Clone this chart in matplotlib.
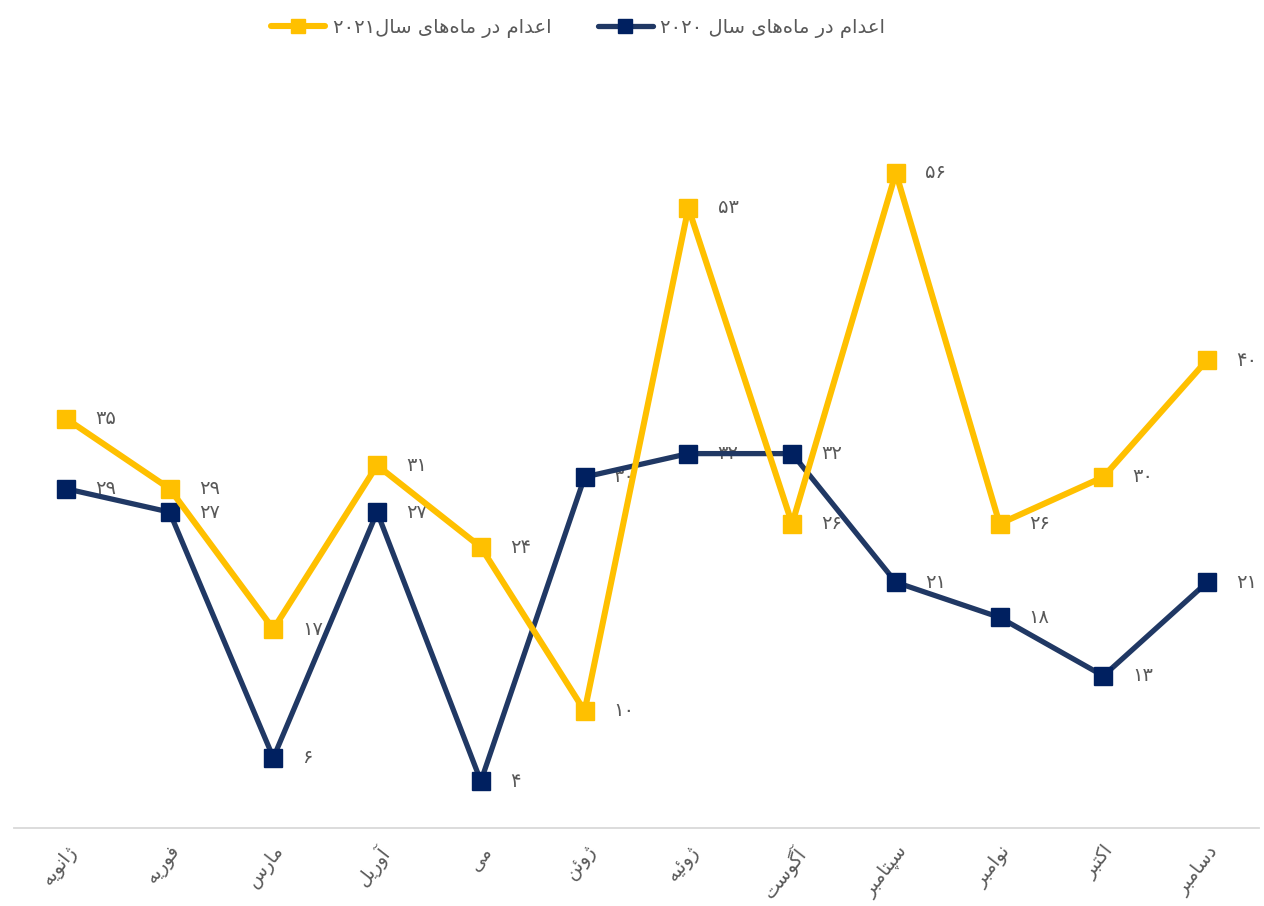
import matplotlib
matplotlib.use("Agg")
import matplotlib.pyplot as plt

MONTHS = ['ژانویه', 'فوریه', 'مارس', 'آوریل', 'می', 'ژوئن',
          'ژوئیه', 'آگوست', 'سپتامبر', 'نوامبر', 'اکتبر', 'دسامبر']
Y2021 = [35, 29, 17, 31, 24, 10, 53, 26, 56, 26, 30, 40]
Y2020 = [29, 27, 6, 27, 4, 30, 32, 32, 21, 18, 13, 21]
LABEL_2021 = 'اعدام در ماه\u200cهای سال۲۰۲۱'
LABEL_2020 = 'اعدام در ماه\u200cهای سال ۲۰۲۰'

YELLOW = '#FFC000'
NAVY_LINE = '#203864'
NAVY_MARK = '#002060'
GRAY = '#595959'

# presentation forms: isolated, final, initial, medial (right-joining letters have only 2)
FORMS = {
    'ا': (0xFE8D, 0xFE8E), 'آ': (0xFE81, 0xFE82), 'د': (0xFEA9, 0xFEAA),
    'ر': (0xFEAD, 0xFEAE), 'ز': (0xFEAF, 0xFEB0), 'و': (0xFEED, 0xFEEE),
    'ژ': (0xFB8A, 0xFB8B),
    'ب': (0xFE8F, 0xFE90, 0xFE91, 0xFE92), 'ت': (0xFE95, 0xFE96, 0xFE97, 0xFE98),
    'س': (0xFEB1, 0xFEB2, 0xFEB3, 0xFEB4), 'ع': (0xFEC9, 0xFECA, 0xFECB, 0xFECC),
    'ف': (0xFED1, 0xFED2, 0xFED3, 0xFED4), 'ل': (0xFEDD, 0xFEDE, 0xFEDF, 0xFEE0),
    'م': (0xFEE1, 0xFEE2, 0xFEE3, 0xFEE4), 'ن': (0xFEE5, 0xFEE6, 0xFEE7, 0xFEE8),
    'ه': (0xFEE9, 0xFEEA, 0xFEEB, 0xFEEC), 'ئ': (0xFE89, 0xFE8A, 0xFE8B, 0xFE8C),
    'ی': (0xFBFC, 0xFBFD, 0xFBFE, 0xFBFF), 'پ': (0xFB56, 0xFB57, 0xFB58, 0xFB59),
    'ک': (0xFB8E, 0xFB8F, 0xFB90, 0xFB91), 'گ': (0xFB92, 0xFB93, 0xFB94, 0xFB95),
}
DIGITS = '۰۱۲۳۴۵۶۷۸۹'


def fa_num(v):
    return ''.join(DIGITS[int(c)] for c in str(v))


def shape(text):
    # join letters, then lay out right to left (digit runs stay left to right)
    out = []
    for i, ch in enumerate(text):
        if ch not in FORMS:
            if ch != '\u200c':
                out.append(ch)
            continue
        prev = text[i - 1] if i > 0 else ''
        nxt = text[i + 1] if i + 1 < len(text) else ''
        pj = prev in FORMS and len(FORMS[prev]) == 4
        nj = nxt in FORMS and len(FORMS[ch]) == 4
        f = FORMS[ch]
        if pj and nj:
            out.append(chr(f[3]))
        elif pj:
            out.append(chr(f[1]))
        elif nj:
            out.append(chr(f[2]))
        else:
            out.append(chr(f[0]))
    runs, cur, isdig = [], '', None
    for ch in out:
        d = ch in DIGITS
        if isdig is None or d == isdig:
            cur += ch
        else:
            runs.append((isdig, cur)); cur = ch
        isdig = d
    runs.append((isdig, cur))
    return ''.join(r if d else r[::-1] for d, r in reversed(runs))


plt.rcParams['font.family'] = ['DejaVu Sans']

fig = plt.figure(figsize=(12.64, 9.06), dpi=100)
ax = fig.add_axes([14 / 1264, 78 / 906, 1245 / 1264, 702 / 906])

x = list(range(len(MONTHS)))
ax.plot(x, Y2020, color=NAVY_LINE, lw=3.8, zorder=3, solid_capstyle='round',
        marker='s', ms=13, mfc=NAVY_MARK, mec=NAVY_MARK, label=shape(LABEL_2020))
ax.plot(x, Y2021, color=YELLOW, lw=4.4, zorder=4, solid_capstyle='round',
        marker='s', ms=13, mfc=YELLOW, mec=YELLOW, label=shape(LABEL_2021))

for xi, v in zip(x, Y2021):
    ax.annotate(fa_num(v), (xi, v), xytext=(21, 0), textcoords='offset points',
                ha='left', va='center', fontsize=14, color=GRAY, zorder=1)
for xi, v in zip(x, Y2020):
    ax.annotate(fa_num(v), (xi, v), xytext=(21, 0), textcoords='offset points',
                ha='left', va='center', fontsize=14, color=GRAY, zorder=1)

ax.set_xlim(-0.5, len(MONTHS) - 0.5)
ax.set_ylim(0, 60)
ax.set_xticks(x)
ax.set_xticklabels([shape(m) for m in MONTHS], rotation=52, ha='right',
                   rotation_mode='anchor', fontsize=13.5, color=GRAY)
ax.tick_params(axis='x', length=0, pad=10)
ax.set_yticks([])
for s in ['top', 'left', 'right']:
    ax.spines[s].set_visible(False)
ax.spines['bottom'].set_color('#D9D9D9')
ax.spines['bottom'].set_linewidth(1.3)

h, l = ax.get_legend_handles_labels()
fig.legend(h[::-1], l[::-1], loc='center', bbox_to_anchor=(578 / 1264, 1 - 28 / 906),
           ncol=2, frameon=False, fontsize=14, labelcolor=GRAY,
           handlelength=2.8, handletextpad=0.4, columnspacing=2.4, markerscale=0.75)

fig.savefig('out.png', dpi=100)
